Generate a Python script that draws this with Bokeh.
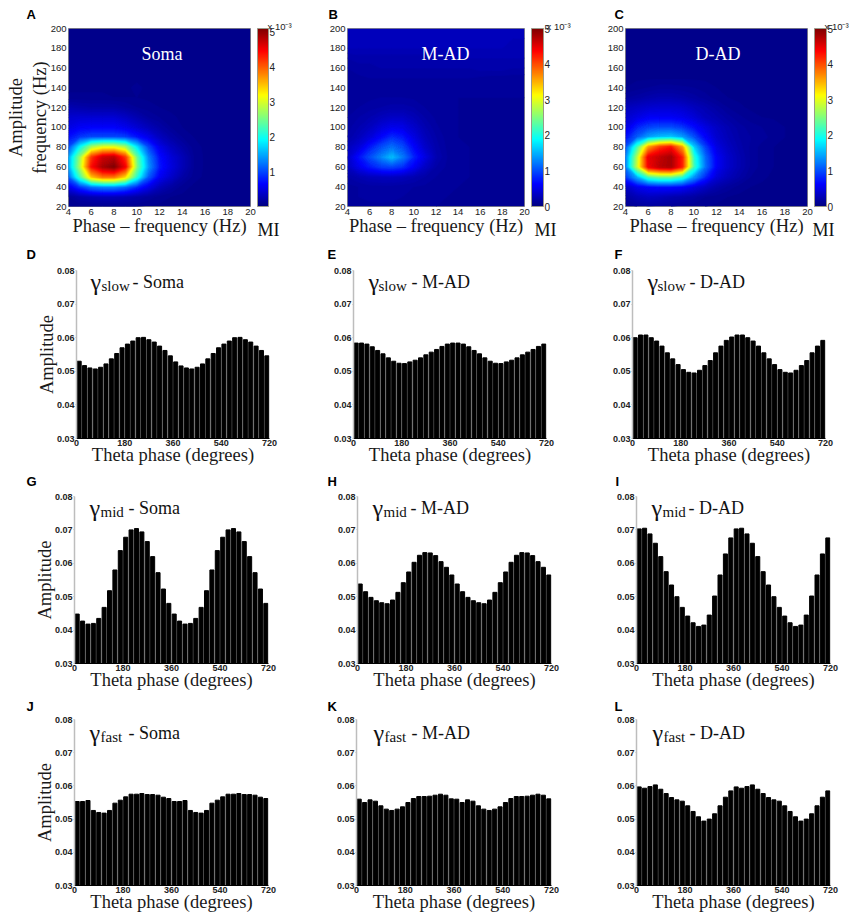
import numpy as np

from bokeh.embed import file_html
from bokeh.layouts import column, row
from bokeh.models import ColorBar, FixedTicker, Label, LinearColorMapper
from bokeh.plotting import figure
from bokeh.resources import INLINE

# MI x 10^-3, rows from 200 Hz down to 20 Hz, columns 4..20 Hz
amp_freq = [200, 190, 180, 170, 160, 150, 140, 130, 120, 110, 100, 90, 80, 70, 60, 50, 40, 30, 20]
phase_freq = list(range(4, 21))

mi_soma = [
    [.06, .06, .06, .06, .06, .06, .06, .06, .06, .06, .06, .06, .06, .06, .06, .06, .06],
    [.06, .06, .06, .06, .06, .06, .06, .06, .06, .06, .06, .06, .06, .06, .06, .06, .06],
    [.06, .06, .06, .06, .06, .06, .06, .06, .06, .06, .06, .06, .06, .06, .06, .06, .06],
    [.06, .06, .06, .06, .06, .06, .06, .06, .06, .06, .06, .06, .06, .06, .06, .06, .06],
    [.06, .06, .06, .06, .06, .06, .06, .06, .06, .06, .06, .06, .06, .06, .06, .06, .06],
    [.07, .07, .07, .07, .07, .07, .07, .07, .06, .06, .06, .06, .06, .06, .06, .06, .06],
    [.07, .07, .07, .07, .07, .07, .09, .07, .07, .06, .06, .06, .06, .06, .06, .06, .06],
    [.09, .09, .09, .09, .08, .08, .08, .07, .07, .06, .06, .06, .06, .06, .06, .06, .06],
    [.25, .22, .20, .20, .20, .16, .12, .10, .08, .07, .07, .06, .06, .06, .06, .06, .06],
    [.40, .42, .42, .42, .42, .35, .25, .16, .12, .09, .07, .06, .06, .06, .06, .06, .06],
    [.50, .60, .62, .62, .62, .55, .42, .30, .20, .12, .08, .07, .06, .06, .06, .06, .06],
    [.70, .90, 1.0, 1.0, 1.0, .95, .75, .55, .33, .20, .12, .08, .06, .06, .06, .06, .06],
    [1.0, 1.9, 2.7, 3.0, 3.0, 2.7, 1.8, 1.0, .55, .33, .20, .10, .07, .06, .06, .06, .06],
    [1.4, 2.6, 4.1, 4.6, 4.7, 4.1, 2.4, 1.3, .70, .45, .28, .12, .07, .06, .06, .06, .06],
    [1.4, 2.7, 4.3, 4.8, 5.0, 4.4, 2.5, 1.4, .75, .48, .28, .12, .07, .06, .06, .06, .06],
    [1.1, 2.2, 3.4, 3.8, 3.8, 3.3, 2.1, 1.1, .60, .38, .20, .10, .07, .06, .06, .06, .06],
    [.55, .90, 1.2, 1.3, 1.3, 1.15, .85, .55, .30, .18, .10, .07, .06, .06, .06, .06, .06],
    [.12, .20, .25, .28, .28, .25, .20, .15, .10, .08, .07, .06, .06, .06, .06, .06, .06],
    [.08, .08, .08, .08, .08, .08, .08, .07, .07, .06, .06, .06, .06, .06, .06, .06, .06],
]
mi_mad = [
    [.30, .30, .30, .30, .30, .30, .30, .30, .30, .30, .30, .30, .30, .30, .30, .30, .30],
    [.30, .30, .30, .30, .30, .30, .30, .30, .30, .30, .30, .30, .30, .30, .30, .28, .28],
    [.28, .28, .28, .28, .28, .28, .28, .28, .28, .28, .28, .28, .28, .28, .28, .28, .28],
    [.20, .22, .22, .22, .22, .22, .22, .22, .22, .24, .24, .24, .24, .24, .24, .24, .24],
    [.16, .18, .18, .20, .20, .20, .20, .20, .20, .20, .20, .20, .22, .22, .22, .20, .20],
    [.14, .15, .16, .16, .16, .16, .16, .16, .16, .16, .16, .16, .15, .14, .14, .14, .14],
    [.13, .14, .14, .14, .14, .14, .14, .14, .14, .14, .14, .13, .13, .13, .13, .13, .13],
    [.13, .14, .15, .16, .16, .16, .15, .14, .13, .13, .12, .12, .12, .12, .12, .12, .12],
    [.14, .16, .18, .20, .22, .22, .20, .16, .14, .13, .12, .12, .12, .12, .12, .12, .12],
    [.16, .20, .24, .30, .35, .35, .28, .20, .15, .13, .12, .12, .12, .12, .12, .12, .12],
    [.18, .24, .32, .45, .55, .52, .38, .25, .17, .13, .12, .12, .12, .12, .12, .12, .12],
    [.20, .30, .45, .65, .85, .75, .50, .30, .20, .14, .12, .12, .12, .12, .12, .12, .12],
    [.30, .45, .75, 1.0, 1.2, 1.0, .65, .38, .22, .15, .13, .12, .12, .12, .12, .12, .12],
    [.35, .70, 1.0, 1.3, 1.6, 1.25, .80, .50, .25, .16, .13, .12, .12, .12, .12, .12, .12],
    [.32, .55, .75, .90, .95, .85, .60, .35, .20, .15, .13, .12, .12, .12, .12, .12, .12],
    [.20, .25, .30, .32, .33, .30, .25, .20, .16, .14, .13, .12, .12, .12, .12, .12, .12],
    [.14, .16, .18, .18, .18, .17, .16, .15, .14, .13, .12, .12, .12, .12, .12, .12, .12],
    [.13, .16, .18, .19, .18, .16, .15, .14, .13, .12, .12, .12, .12, .12, .12, .12, .12],
    [.12, .13, .14, .14, .14, .13, .13, .13, .12, .12, .12, .12, .12, .12, .12, .12, .12],
]
mi_dad = [
    [.07, .07, .07, .07, .07, .07, .07, .07, .07, .07, .07, .07, .07, .07, .07, .07, .07],
    [.07, .07, .07, .07, .07, .07, .07, .07, .07, .07, .07, .07, .07, .07, .07, .07, .07],
    [.07, .07, .07, .07, .07, .07, .07, .07, .07, .07, .07, .07, .07, .07, .07, .07, .07],
    [.07, .07, .07, .07, .07, .07, .07, .07, .07, .07, .07, .07, .07, .07, .07, .07, .07],
    [.07, .07, .07, .07, .07, .07, .07, .07, .07, .07, .07, .07, .07, .07, .07, .07, .07],
    [.07, .07, .07, .07, .07, .07, .07, .07, .07, .07, .07, .07, .07, .07, .07, .07, .07],
    [.08, .10, .12, .14, .14, .13, .12, .10, .08, .07, .07, .07, .07, .07, .07, .07, .07],
    [.15, .18, .22, .25, .25, .22, .18, .14, .10, .08, .07, .07, .07, .07, .07, .07, .07],
    [.30, .35, .40, .42, .42, .40, .32, .25, .18, .12, .09, .07, .07, .07, .07, .07, .07],
    [.40, .50, .60, .60, .60, .55, .45, .32, .25, .18, .13, .10, .08, .07, .07, .07, .07],
    [.50, .80, .95, 1.0, 1.0, .90, .70, .50, .35, .25, .18, .14, .12, .12, .08, .07, .07],
    [.70, 1.1, 1.45, 1.6, 1.65, 1.45, 1.05, .65, .40, .28, .20, .16, .14, .10, .08, .07, .07],
    [1.0, 2.2, 3.6, 4.1, 4.3, 3.6, 1.7, .95, .50, .33, .22, .15, .10, .08, .07, .07, .07],
    [1.2, 2.7, 4.45, 4.65, 4.8, 4.2, 2.1, 1.15, .60, .38, .25, .15, .10, .08, .07, .07, .07],
    [1.2, 2.8, 4.4, 4.7, 4.8, 4.2, 2.2, 1.2, .60, .38, .25, .15, .10, .08, .07, .07, .07],
    [.90, 1.5, 2.2, 2.4, 2.4, 2.1, 1.4, .85, .45, .30, .20, .12, .09, .07, .07, .07, .07],
    [.35, .55, .65, .70, .70, .65, .50, .35, .22, .15, .10, .08, .07, .07, .07, .07, .07],
    [.18, .28, .33, .30, .25, .22, .18, .12, .10, .08, .07, .07, .07, .07, .07, .07, .07],
    [.09, .12, .15, .14, .12, .10, .09, .08, .07, .07, .07, .07, .07, .07, .07, .07, .07],
]

# mean amplitude per 20 degree bin, 36 bins over 720 degrees
slow_soma = [.0530, .0517, .0510, .0507, .0512, .0522, .0537, .0553, .0570, .0581, .0590, .0600,
             .0601, .0594, .0587, .0575, .0562, .0546, .0528, .0516, .0510, .0507, .0512, .0522,
             .0537, .0553, .0570, .0581, .0590, .0600, .0601, .0594, .0587, .0575, .0562, .0546]
slow_mad = [.0584, .0584, .0581, .0573, .0562, .0552, .0540, .0530, .0524, .0523, .0528, .0533,
            .0540, .0549, .0557, .0565, .0574, .0581, .0584, .0584, .0581, .0573, .0562, .0552,
            .0540, .0530, .0524, .0523, .0528, .0533, .0540, .0549, .0557, .0565, .0574, .0581]
slow_dad = [.0600, .0608, .0608, .0600, .0590, .0575, .0555, .0537, .0520, .0505, .0497, .0495,
            .0503, .0517, .0532, .0555, .0575, .0592, .0602, .0608, .0608, .0600, .0590, .0575,
            .0555, .0537, .0520, .0505, .0497, .0495, .0503, .0517, .0532, .0555, .0575, .0592]
mid_soma = [.0448, .0427, .0418, .0420, .0435, .0468, .0518, .0580, .0638, .0678, .0700, .0704,
            .0694, .0665, .0620, .0572, .0523, .0480, .0448, .0427, .0418, .0420, .0435, .0468,
            .0518, .0580, .0638, .0678, .0700, .0704, .0694, .0665, .0620, .0572, .0523, .0480]
mid_mad = [.0538, .0515, .0498, .0488, .0482, .0479, .0490, .0513, .0542, .0574, .0603, .0624,
           .0632, .0631, .0623, .0605, .0588, .0565, .0538, .0515, .0498, .0488, .0482, .0479,
           .0490, .0513, .0542, .0574, .0603, .0624, .0632, .0631, .0623, .0605, .0588, .0565]
mid_dad = [.0703, .0705, .0688, .0660, .0620, .0575, .0535, .0500, .0468, .0442, .0422, .0411,
           .0415, .0445, .0502, .0565, .0628, .0676, .0703, .0705, .0688, .0660, .0620, .0575,
           .0535, .0500, .0468, .0442, .0422, .0411, .0415, .0445, .0502, .0565, .0628, .0676]
fast_soma = [.0553, .0553, .0556, .0526, .0520, .0518, .0526, .0548, .0557, .0567, .0575, .0575,
             .0577, .0574, .0574, .0572, .0566, .0562, .0553, .0553, .0556, .0526, .0520, .0518,
             .0526, .0548, .0557, .0567, .0575, .0575, .0577, .0574, .0574, .0572, .0566, .0562]
fast_mad = [.0560, .0550, .0558, .0554, .0540, .0530, .0526, .0530, .0537, .0550, .0562, .0568,
            .0568, .0569, .0572, .0575, .0572, .0561, .0560, .0550, .0558, .0554, .0540, .0530,
            .0526, .0530, .0537, .0550, .0562, .0568, .0568, .0569, .0572, .0575, .0572, .0561]
fast_dad = [.0597, .0593, .0598, .0603, .0590, .0577, .0565, .0558, .0554, .0540, .0523, .0507,
            .0494, .0500, .0516, .0540, .0566, .0585, .0597, .0593, .0598, .0603, .0590, .0577,
            .0565, .0558, .0554, .0540, .0523, .0507, .0494, .0500, .0516, .0540, .0566, .0585]
phase_bins = list(range(10, 720, 20))

SERIF = "Liberation Serif"
SANS = "Liberation Sans"
COLS = [(0, 300), (300, 575), (575, 851)]
ROWS = [(-8, 238), (238, 468), (468, 692), (692, 914)]
LEVELS = [i * 0.04 for i in range(129)]


def jet():
    t = np.linspace(0, 1, 256)
    chan = lambda c: np.clip(1.5 - np.abs(4 * t - c), 0, 1)
    rgb = np.stack([chan(3), chan(2), chan(1)], axis=1) * 255
    return ["#%02x%02x%02x" % tuple(int(v) for v in c) for c in rgb]


JET = jet()
# one jet colour per band between contour levels
BANDS = [JET[min(255, int((a + 0.02) / 5 * 256))] for a in LEVELS[:-1]]


def base_figure(cell, frame, x_range, y_range):
    (cx0, cx1), (cy0, cy1) = cell
    fx0, fx1, fy0, fy1 = frame
    return figure(
        width=cx1 - cx0, height=cy1 - cy0,
        min_border_left=fx0 - cx0, min_border_right=cx1 - fx1,
        min_border_top=fy0 - cy0, min_border_bottom=cy1 - fy1,
        x_range=x_range, y_range=y_range,
        output_backend="svg", toolbar_location=None,
    )


def make_label(cell, x, y, txt, size, font=SERIF, color="#111111", style="normal"):
    # x, y are page pixels, left end of the baseline
    return Label(x=x - cell[0][0], y=y - cell[1][0], x_units="canvas", y_units="canvas",
                 text=txt, text_font=font, text_font_size=f"{size}px", text_color=color,
                 text_font_style=style, text_baseline="alphabetic", text_align="left")


def style_axes(p, tick_px, tick_style, label_px):
    for ax in (p.xaxis[0], p.yaxis[0]):
        ax.major_label_text_font = SANS
        ax.major_label_text_font_size = f"{tick_px}px"
        ax.major_label_text_font_style = tick_style
        ax.major_label_text_color = "#222222"
        ax.axis_label_text_font = SERIF
        ax.axis_label_text_font_size = f"{label_px}px"
        ax.axis_label_text_font_style = "normal"
        ax.axis_label_text_color = "#1a1a1a"
        ax.minor_tick_line_color = None
    p.grid.visible = False


def heat_panel(cell, frame, bar_width, bar_high, letter, letter_x, name, name_x, mi, bar_ticks, mi_x, mi_side, exp_x, ylabel):
    p = base_figure(cell, frame, (4, 20), (20, 200))
    p.contour(x=phase_freq, y=amp_freq[::-1], z=np.array(mi[::-1], dtype=float), levels=LEVELS,
              fill_color=BANDS, line_color=BANDS, line_width=1)
    style_axes(p, 9.5, "normal", 18.5)
    p.xaxis.ticker = FixedTicker(ticks=list(range(4, 21, 2)))
    p.yaxis.ticker = FixedTicker(ticks=list(range(20, 201, 20)))
    p.xaxis.axis_label = "Phase \u2013 frequency (Hz)"
    p.xaxis.axis_label_standoff = -2
    p.xaxis.major_label_standoff = 2
    p.yaxis.major_label_standoff = 2
    for ax in (p.xaxis[0], p.yaxis[0]):
        ax.axis_line_color = None
        ax.major_tick_line_color = None
        ax.major_tick_out = 0
        ax.major_tick_in = 0
    if ylabel:
        p.yaxis.axis_label = "Amplitude\nfrequency (Hz)"
        p.yaxis.axis_label_standoff = -2
    p.outline_line_color = "#99998a"
    p.background_fill_color = JET[3]
    mapper = LinearColorMapper(palette=JET, low=0, high=bar_high)
    bar = ColorBar(color_mapper=mapper, width=bar_width, height="auto", location=(7, 0), margin=0, padding=0,
                   ticker=FixedTicker(ticks=bar_ticks), major_tick_line_color=None,
                   major_label_text_font=SANS, major_label_text_font_size="10px",
                   major_label_text_color="#222222", label_standoff=1,
                   bar_line_color="#99998a", background_fill_color=None, border_line_color=None)
    p.add_layout(bar, "right")
    p.add_layout(make_label(cell, name_x, 53, name, 18, color="#ffffff"))
    # inside the frame a label gets clipped, so these go in the side panels
    p.add_layout(make_label(cell, letter_x, 14, letter, 13, SANS, "#000000", "bold"), "above")
    p.add_layout(make_label(cell, exp_x, 26, "x 10\u207b\u00b3", 9.5, SANS, "#222222"), "above")
    p.add_layout(make_label(cell, mi_x, 229, "MI", 18), mi_side)
    return p


def bar_panel(cell, frame, letter, letter_x, letter_y, vals, band, site, gx, sx, rx, base, ylabel):
    p = base_figure(cell, frame, (0, 720), (0.03, 0.08))
    p.vbar(x=phase_bins, top=vals, bottom=0.03, width=15, color="#000000")
    style_axes(p, 9, "bold", 18.5)
    p.xaxis.ticker = FixedTicker(ticks=[0, 180, 360, 540, 720])
    p.yaxis.ticker = FixedTicker(ticks=[0.03, 0.04, 0.05, 0.06, 0.07, 0.08])
    p.xaxis.axis_label = "Theta phase (degrees)"
    p.xaxis.axis_label_standoff = -4
    p.xaxis.major_label_standoff = 1
    p.yaxis.major_label_standoff = 1
    p.xaxis.major_tick_line_color = None
    p.xaxis.major_tick_out = 0
    p.xaxis.major_tick_in = 0
    p.xaxis.axis_line_color = "#000000"
    p.yaxis.axis_line_color = "#bdbdbd"
    p.yaxis.axis_line_width = 1.5
    p.yaxis.major_tick_line_color = "#bdbdbd"
    p.yaxis.major_tick_in = 0
    p.yaxis.major_tick_out = 1
    if ylabel:
        p.yaxis.axis_label = "Amplitude"
        p.yaxis.axis_label_standoff = -3
    p.outline_line_color = None
    p.add_layout(make_label(cell, gx, base, "\u03b3", 24))
    p.add_layout(make_label(cell, sx, base + 4, band, 15))
    p.add_layout(make_label(cell, rx, base, f"- {site}", 18))
    p.add_layout(make_label(cell, letter_x, letter_y, letter, 13, SANS, "#000000", "bold"), "above")
    return p


row1 = [
    heat_panel((COLS[0], ROWS[0]), (68, 250, 28, 207), 11, 5.1, "A", 26, "Soma", 141, mi_soma, [1, 2, 3, 4, 5], 257, "right", 267, True),
    heat_panel((COLS[1], ROWS[0]), (347, 527, 28, 207), 12, 5, "B", 328, "M-AD", 421, mi_mad, [0, 1, 2, 3, 4, 5], 534, "right", 546, False),
    heat_panel((COLS[2], ROWS[0]), (625, 807, 28, 207), 12, 5, "C", 614, "D-AD", 695, mi_dad, [0, 1, 2, 3, 4, 5], 812, "left", 824, False),
]
row2 = [
    bar_panel((COLS[0], ROWS[1]), (76, 269, 270, 438), "D", 26, 254, slow_soma, "slow", "Soma", 90, 101, 132, 281, True),
    bar_panel((COLS[1], ROWS[1]), (353, 546, 270, 438), "E", 327, 254, slow_mad, "slow", "M-AD", 368, 378, 411, 281, False),
    bar_panel((COLS[2], ROWS[1]), (632, 825, 270, 438), "F", 614, 254, slow_dad, "slow", "D-AD", 647, 657, 689, 281, False),
]
row3 = [
    bar_panel((COLS[0], ROWS[2]), (74, 268, 496, 664), "G", 26, 481, mid_soma, "mid", "Soma", 89, 100, 128, 507, True),
    bar_panel((COLS[1], ROWS[2]), (357, 551, 496, 664), "H", 327, 481, mid_mad, "mid", "M-AD", 372, 383, 410, 507, False),
    bar_panel((COLS[2], ROWS[2]), (636, 830, 496, 664), "I", 615, 481, mid_dad, "mid", "D-AD", 651, 662, 688, 507, False),
]
row4 = [
    bar_panel((COLS[0], ROWS[3]), (74, 268, 719, 887), "J", 26, 706, fast_soma, "fast", "Soma", 89, 100, 128, 732, True),
    bar_panel((COLS[1], ROWS[3]), (356, 551, 719, 887), "K", 327, 706, fast_mad, "fast", "M-AD", 373, 384, 411, 732, False),
    bar_panel((COLS[2], ROWS[3]), (636, 830, 719, 887), "L", 614, 706, fast_dad, "fast", "D-AD", 652, 663, 689, 732, False),
]

page = column(
    row(*row1, spacing=0), row(*row2, spacing=0), row(*row3, spacing=0), row(*row4, spacing=0),
    spacing=0, margin=(-8, 0, 0, 0),
)

open("out.html", "w").write(file_html(page, INLINE))
